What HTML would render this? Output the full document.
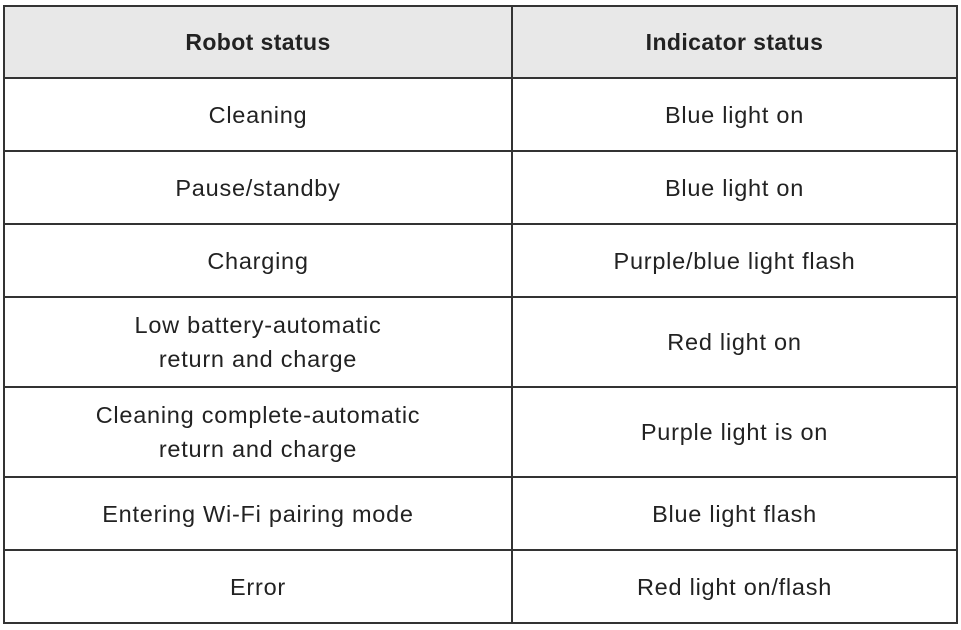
<!DOCTYPE html>
<html><head><meta charset="utf-8"><style>
html,body{margin:0;padding:0;background:#fff;width:961px;height:630px;overflow:hidden}
.c{position:absolute;display:flex;align-items:center;justify-content:center;text-align:center;font-family:"Liberation Sans",sans-serif;font-size:23.5px;letter-spacing:0.75px;color:#222;line-height:34px}
.h{font-weight:bold;letter-spacing:0.4px;font-size:23px}
.hl{position:absolute;left:4px;width:954px;height:2px;background:#333}
.vl{position:absolute;top:5px;height:619px;width:2px;background:#333}
</style></head><body>
<div style="position:absolute;left:4px;top:5px;width:954px;height:73px;background:#e8e8e8"></div>
<div class="hl" style="top:5px"></div>
<div class="hl" style="top:77px"></div>
<div class="hl" style="top:150px"></div>
<div class="hl" style="top:223px"></div>
<div class="hl" style="top:296px"></div>
<div class="hl" style="top:386px"></div>
<div class="hl" style="top:476px"></div>
<div class="hl" style="top:549px"></div>
<div class="hl" style="top:622px"></div>
<div class="vl" style="left:3px"></div>
<div class="vl" style="left:511px"></div>
<div class="vl" style="left:956px"></div>

<div class="c h" style="left:4px;width:508px;top:5px;height:73px">Robot status</div>
<div class="c h" style="left:512px;width:445px;top:5px;height:73px">Indicator status</div>

<div class="c" style="left:4px;width:508px;top:78px;height:73px">Cleaning</div>
<div class="c" style="left:512px;width:445px;top:78px;height:73px">Blue light on</div>
<div class="c" style="left:4px;width:508px;top:151px;height:73px">Pause/standby</div>
<div class="c" style="left:512px;width:445px;top:151px;height:73px">Blue light on</div>
<div class="c" style="left:4px;width:508px;top:224px;height:73px">Charging</div>
<div class="c" style="left:512px;width:445px;top:224px;height:73px">Purple/blue light flash</div>
<div class="c" style="left:4px;width:508px;top:297px;height:90px">Low battery-automatic<br>return and charge</div>
<div class="c" style="left:512px;width:445px;top:297px;height:90px">Red light on</div>
<div class="c" style="left:4px;width:508px;top:387px;height:90px">Cleaning complete-automatic<br>return and charge</div>
<div class="c" style="left:512px;width:445px;top:387px;height:90px">Purple light is on</div>
<div class="c" style="left:4px;width:508px;top:477px;height:73px">Entering Wi-Fi pairing mode</div>
<div class="c" style="left:512px;width:445px;top:477px;height:73px">Blue light flash</div>
<div class="c" style="left:4px;width:508px;top:550px;height:73px">Error</div>
<div class="c" style="left:512px;width:445px;top:550px;height:73px">Red light on/flash</div>
</body></html>
